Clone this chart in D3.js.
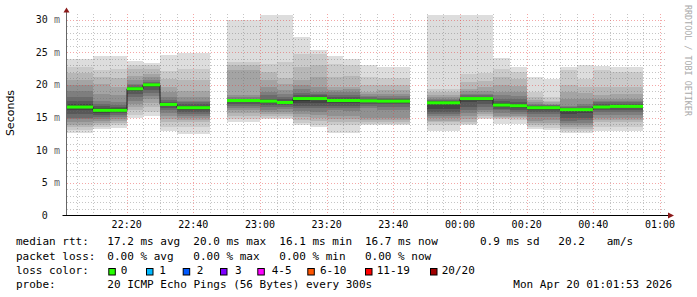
<!DOCTYPE html>
<html><head><meta charset="utf-8">
<script src="https://cdn.jsdelivr.net/npm/d3@7"></script>
<style>
html,body{margin:0;padding:0;background:#fff;}
svg{display:block;}
text{font-family:"DejaVu Sans Mono",monospace;}
</style></head>
<body>
<svg id="chart" width="697" height="297"></svg>
<script>
// ---------- data ----------
const slotEnds = ["22:05","22:10","22:15","22:20","22:25","22:30","22:35","22:40","22:45","22:50",
  "22:55","23:00","23:05","23:10","23:15","23:20","23:25","23:30","23:35","23:40","23:45","23:50",
  "23:55","00:00","00:05","00:10","00:15","00:20","00:25","00:30","00:35","00:40","00:45","00:50","00:55"];
const medians = [16.6,16.6,16.1,16.1,19.4,20.0,17.0,16.5,16.5,null,
  17.6,17.6,17.5,17.3,17.9,17.9,17.6,17.6,17.55,17.5,17.5,null,
  17.25,17.25,17.9,17.9,16.9,16.8,16.5,16.5,16.2,16.2,16.6,16.7,16.7];
const pings = [
  [12.6,13.1,13.5,13.9,14.3,14.7,15.0,15.6,16.1,16.5,16.8,17.1,17.6,18.1,19.1,19.9,20.7,21.8,22.8,24.0],
  [12.6,13.1,13.5,13.9,14.3,14.7,15.0,15.6,16.1,16.5,16.8,17.1,17.6,18.1,19.1,19.9,20.7,21.8,22.8,24.0],
  [13.3,13.6,13.9,14.2,14.5,14.8,15.1,15.4,15.7,16.0,16.2,16.4,16.7,17.1,17.6,18.6,20.2,21.2,22.2,24.4],
  [13.4,13.8,14.2,14.5,14.8,15.1,15.4,15.7,15.9,16.0,16.2,16.4,16.6,16.9,17.4,18.4,19.6,21.0,22.4,24.4],
  [15.0,15.4,16.1,16.6,17.1,17.6,18.1,18.6,19.0,19.3,19.5,19.6,19.7,19.9,20.2,20.7,21.4,22.5,23.0,23.6],
  [15.3,15.9,16.6,17.2,17.8,18.3,18.8,19.2,19.6,19.9,20.1,20.2,20.3,20.5,20.8,21.2,21.7,22.4,23.0,23.4],
  [12.9,13.5,14.3,14.8,15.3,15.7,16.1,16.4,16.7,16.9,17.1,17.2,17.4,17.7,18.1,18.9,19.6,20.9,22.1,24.6],
  [12.5,13.5,14.3,14.6,15.0,15.3,15.6,15.9,16.2,16.4,16.6,16.8,17.0,17.3,17.6,18.1,19.1,20.7,22.5,24.9],
  [12.5,13.5,14.3,14.6,15.0,15.3,15.6,15.9,16.2,16.4,16.6,16.8,17.0,17.3,17.6,18.1,19.1,20.7,22.5,24.9],
  null,
  [14.3,14.8,15.3,15.7,16.1,16.4,16.8,17.0,17.3,17.5,17.65,17.7,17.8,17.9,18.1,18.5,22.2,23.0,23.5,30.0],
  [14.3,14.8,15.3,15.7,16.1,16.4,16.8,17.0,17.3,17.5,17.65,17.7,17.8,17.9,18.1,18.5,22.2,23.0,23.5,30.0],
  [14.8,15.0,15.2,15.5,15.8,16.2,16.6,16.9,17.2,17.4,17.6,17.7,17.9,18.4,18.9,19.6,20.7,21.9,23.2,30.7],
  [14.7,15.0,15.3,15.6,15.9,16.3,16.6,16.9,17.1,17.25,17.4,17.6,17.8,18.2,18.6,19.2,20.2,21.1,23.5,30.7],
  [13.8,14.1,14.6,15.1,15.6,16.0,16.4,16.8,17.2,17.6,18.0,18.1,18.4,18.8,19.3,19.9,20.7,22.7,24.7,27.3],
  [13.5,13.9,14.4,14.9,15.4,15.9,16.4,16.8,17.2,17.7,18.0,18.2,18.4,18.6,18.9,19.6,21.2,23.0,24.7,25.4],
  [12.7,13.8,14.3,14.8,15.3,16.1,16.4,16.8,17.2,17.5,17.7,17.9,18.1,18.5,18.9,19.2,19.6,21.2,23.2,24.4],
  [12.7,13.8,14.3,14.8,15.3,16.0,16.4,16.8,17.2,17.5,17.7,17.9,18.1,18.5,18.9,19.3,19.7,21.3,23.0,24.0],
  [13.8,14.05,14.3,14.6,14.9,16.4,16.8,17.05,17.3,17.45,17.65,17.75,17.9,18.1,18.3,18.6,18.9,19.9,21.2,23.0],
  [13.8,14.05,14.3,14.6,14.9,16.2,16.6,17.0,17.2,17.4,17.6,17.7,17.85,18.0,18.3,18.6,19.2,20.0,21.0,22.8],
  [13.8,14.05,14.3,14.6,14.9,16.2,16.6,17.0,17.2,17.4,17.6,17.7,17.85,18.0,18.3,18.6,19.2,20.0,21.0,22.8],
  null,
  [13.0,13.8,14.3,14.5,15.0,15.2,15.6,15.8,16.3,17.15,17.35,17.45,17.55,17.7,17.9,18.1,18.4,18.9,19.4,30.7],
  [13.0,13.8,14.3,14.5,15.0,15.2,15.6,15.8,16.3,17.15,17.35,17.45,17.55,17.7,17.9,18.1,18.4,18.9,19.4,30.7],
  [13.8,14.05,14.3,14.8,15.3,15.7,16.1,16.6,17.4,17.8,18.0,18.1,18.2,18.4,18.6,19.0,19.4,20.4,21.7,30.7],
  [14.7,15.0,15.2,15.5,15.8,16.2,16.6,17.0,17.5,17.8,18.0,18.1,18.2,18.4,18.6,19.0,19.6,20.6,21.8,30.7],
  [14.0,14.7,15.0,15.1,15.3,15.7,16.1,16.3,16.6,16.8,17.0,17.2,17.5,17.9,18.4,18.9,19.9,21.2,22.5,24.1],
  [14.0,14.6,14.9,15.1,15.3,15.6,15.9,16.2,16.5,16.7,16.9,17.1,17.4,17.8,18.3,18.9,19.8,20.9,21.9,22.7],
  [13.3,13.5,13.8,14.2,14.5,15.1,15.6,15.9,16.2,16.4,16.6,16.7,16.8,16.95,17.1,17.3,17.7,18.1,18.9,21.2],
  [13.1,13.4,13.8,14.2,14.6,15.1,15.6,15.9,16.2,16.4,16.55,16.65,16.75,16.85,16.95,17.1,17.3,17.6,18.1,20.9],
  [12.7,13.0,13.3,13.5,13.8,14.1,14.5,14.9,15.6,16.1,16.25,16.35,16.45,16.6,16.8,17.9,18.9,19.9,22.2,22.7],
  [12.7,13.0,13.3,13.6,13.9,14.2,14.6,15.0,15.7,16.1,16.25,16.35,16.5,16.7,17.0,17.8,18.7,19.7,20.9,23.0],
  [12.9,13.5,14.3,14.6,15.0,15.4,15.8,16.1,16.3,16.5,16.7,16.8,17.0,17.3,17.6,17.9,18.4,19.6,22.2,22.9],
  [12.9,13.5,14.3,14.6,15.0,15.4,15.8,16.1,16.4,16.6,16.8,16.9,17.05,17.3,17.6,17.9,18.6,19.6,22.0,22.8],
  [12.9,13.5,14.3,14.6,15.0,15.4,15.8,16.1,16.4,16.6,16.8,16.9,17.05,17.3,17.6,17.9,18.6,19.6,22.0,22.8]
];
const yTicks = [0,5,10,15,20,25,30];
const xTickLabels = ["22:20","22:40","23:00","23:20","23:40","00:00","00:20","00:40","01:00"];
const rttLine = ["median rtt:","17.2 ms avg","20.0 ms max","16.1 ms min","16.7 ms now","0.9 ms sd","20.2","am/s"];
const lossLine = ["packet loss:","0.00 % avg","0.00 % max","0.00 % min","0.00 % now"];
const lossLabels = ["0","1","2","3","4-5","6-10","11-19","20/20"];
const lossColors = ["#26ff00","#00b8ff","#0059ff","#7e00ff","#ff00ff","#ff5500","#ff0000","#a10000"];
const probeLine = ["probe:","20 ICMP Echo Pings (56 Bytes) every 300s","Mon Apr 20 01:01:53 2026"];
const yLabel = "Seconds";
const watermark = "RRDTOOL / TOBI OETIKER";

// ---------- helpers ----------
function toDate(hm){
  const [h,m] = hm.split(":").map(Number);
  const day = h < 12 ? 20 : 19;
  return new Date(Date.UTC(2026,3,day,h,m));
}
const t0 = new Date(Date.UTC(2026,3,19,22,2));
const t1 = new Date(Date.UTC(2026,3,20,1,2));
const x = d3.scaleUtc().domain([t0,t1]).range([66.67,666.67]);
const y = d3.scaleLinear().domain([0,30]).range([215.5,19.5]);
const plotTop = 13.5, plotBottom = 215.5, plotLeft = 66.67, plotRight = 667;

const svg = d3.select("#chart");
svg.append("defs").append("clipPath").attr("id","clip")
  .append("rect").attr("x",plotLeft).attr("y",plotTop)
  .attr("width",plotRight-plotLeft).attr("height",plotBottom-plotTop);

const slots = slotEnds.map((e,i)=>{
  const end = toDate(e);
  let start = new Date(+end - 5*60000);
  if (start < t0) start = t0;
  return {start,end,med:medians[i],p:pings[i]};
});

// smoke
const shades = d3.range(10).map(i=>{
  const v = Math.round(190/10*(10-(i+1)))+50;
  return d3.rgb(v,v,v).formatHex();
});
const smoke = svg.append("g").attr("clip-path","url(#clip)").attr("shape-rendering","crispEdges");
slots.forEach(s=>{
  if(!s.p) return;
  const x0 = Math.round(x(s.start)), x1 = Math.round(x(s.end));
  for(let i=0;i<10;i++){
    const lo = s.p[i], hi = s.p[19-i];
    const ya = Math.round(y(hi)), yb = Math.round(y(lo));
    smoke.append("rect").attr("x",x0).attr("width",x1-x0)
      .attr("y",ya).attr("height",Math.max(0,yb-ya)).attr("fill",shades[i]);
  }
});

// grid
const grid = svg.append("g").attr("shape-rendering","crispEdges");
const minorX = d3.utcMinute.every(5).range(t0, new Date(+t1+1));
const majorX = d3.utcMinute.every(20).range(t0, new Date(+t1+1));
const majorSet = new Set(majorX.map(d=>+d));
const minorCol = "rgba(110,110,110,0.40)", majorCol = "rgba(230,60,60,0.45)";
minorX.forEach(d=>{
  const xx = Math.round(x(d))+0.5;
  const major = majorSet.has(+d);
  grid.append("line").attr("x1",xx).attr("x2",xx).attr("y1",plotTop).attr("y2",plotBottom-1)
    .attr("stroke", major ? majorCol : minorCol).attr("stroke-dasharray","1,2");
});
d3.range(1,31).forEach(v=>{
  const yy = Math.round(y(v))+0.5;
  const major = v % 5 === 0;
  grid.append("line").attr("x1",plotLeft).attr("x2",plotRight).attr("y1",yy).attr("y2",yy)
    .attr("stroke", major ? majorCol : minorCol).attr("stroke-dasharray","1,2");
});

// median step line + loss-coloured band
const runs = [];
let cur = [];
slots.forEach(s=>{
  if(s.med==null){ if(cur.length) runs.push(cur); cur=[]; }
  else cur.push(s);
});
if(cur.length) runs.push(cur);
const stepLine = d3.line().x(d=>Math.round(x(d[0]))).y(d=>y(d[1])).curve(d3.curveStepAfter);
runs.forEach(r=>{
  const pts = r.map(s=>[s.start,s.med]);
  pts.push([r[r.length-1].end, r[r.length-1].med]);
  svg.append("path").attr("d",stepLine(pts)).attr("fill","none")
    .attr("stroke","#202020").attr("stroke-width",1);
});
slots.forEach(s=>{
  if(s.med==null) return;
  const x0 = Math.round(x(s.start)), x1 = Math.round(x(s.end));
  svg.append("rect").attr("x",x0).attr("width",x1-x0)
    .attr("y",y(s.med)-1.5).attr("height",3).attr("fill",lossColors[0]);
});

// axes
svg.append("line").attr("x1",66.5).attr("x2",66.5).attr("y1",12).attr("y2",plotBottom)
  .attr("stroke","#666").attr("stroke-width",1);
svg.append("path").attr("d","M63.5,12.5 L69.5,12.5 L66.5,7.5 Z").attr("fill","#8b1a1a");
svg.append("line").attr("x1",62.5).attr("x2",668).attr("y1",215.5).attr("y2",215.5)
  .attr("stroke","#000").attr("stroke-width",1);
svg.append("path").attr("d","M668,212.5 L668,218.5 L674,215.5 Z").attr("fill","#8b1a1a");

// x tick labels
const xt = svg.append("g").attr("font-size","10px").attr("fill","#000");
xTickLabels.forEach(l=>{
  xt.append("text").attr("x",x(toDate(l))).attr("y",228).attr("text-anchor","middle").text(l);
});
// y tick labels
const yt = svg.append("g").attr("font-size","10px");
yTicks.forEach(v=>{
  yt.append("text").attr("x",47.8).attr("y",y(v)+3.6).attr("text-anchor","end")
    .attr("fill","#111").text(v);
  if(v>0) yt.append("text").attr("x",54).attr("y",y(v)+3.6).attr("fill","#666").text("m");
});
// y axis title
svg.append("text").attr("transform","translate(14,113) rotate(-90)").attr("text-anchor","middle")
  .attr("font-size","11px").attr("fill","#000")
  .style("font-family","'DejaVu Sans',sans-serif").text(yLabel);
// watermark
svg.append("text").attr("transform","translate(685,5) rotate(90)").attr("font-size","8.4px")
  .attr("fill","#aaa").text(watermark);

// legend
const lg = svg.append("g").attr("font-size","11px").attr("fill","#000");
const rttX = [16,107.3,193.3,279.3,365,480,558.3,606.7];
rttLine.forEach((t,i)=>lg.append("text").attr("x",rttX[i]).attr("y",245.3).text(t));
const lossX = [16,107.3,193.3,279.3,365];
lossLine.forEach((t,i)=>lg.append("text").attr("x",lossX[i]).attr("y",259.5).text(t));
lg.append("text").attr("x",16).attr("y",273.8).text("loss color:");
const boxX = [108.3,146,182.7,220,257.3,307.3,365,430];
const labX = [120.7,159.3,196.7,235,271.7,320,376.7,441.7];
lossLabels.forEach((t,i)=>{
  lg.append("rect").attr("x",boxX[i]+0.5).attr("y",268.5).attr("width",6.5).attr("height",6.5)
    .attr("fill",lossColors[i]).attr("stroke","#000").attr("stroke-width",1);
  lg.append("text").attr("x",labX[i]).attr("y",273.8).text(t);
});
const probeX = [16,107.3,513.3];
probeLine.forEach((t,i)=>lg.append("text").attr("x",probeX[i]).attr("y",288).text(t));
</script>
</body></html>
